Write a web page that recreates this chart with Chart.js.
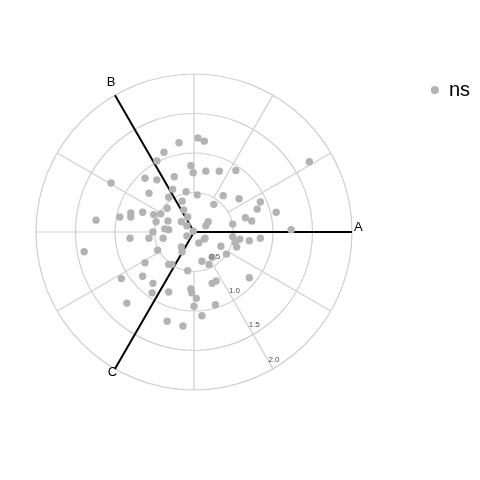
<!DOCTYPE html>
<html><head><meta charset="utf-8">
<style>html,body{margin:0;padding:0;background:#fff;}#wrap{width:480px;height:480px;}</style>
<script src="https://cdn.jsdelivr.net/npm/chart.js@4.4.1/dist/chart.umd.min.js"></script>
</head><body><div id="wrap"><canvas id="c" width="480" height="480"></canvas></div>
<script>
const seriesName = "ns";
const axisLabels = ["A", "B", "C"];
const axisAngles = [0, 120, 240];
const ringValues = [0.5, 1.0, 1.5, 2.0];
const tickLabels = ["0.5", "1.0", "1.5", "2.0"];
const spokeAngles = [30, 60, 90, 150, 180, 210, 270, 300, 330];
const pointX = [0.05,0.13,-0.19,-0.38,-0.47,1.46,-0.04,-0.01,0.15,0.32,0.53,-0.62,-0.47,-0.25,-1.05,-0.57,-0.27,-0.10,0.04,-0.32,-0.15,0.37,0.57,0.84,0.25,0.80,1.04,0.65,0.73,0.49,1.23,0.18,0.15,-0.34,-0.42,-0.51,-0.65,-0.80,-0.80,-0.94,-1.24,-0.48,-0.33,-0.16,-0.09,-0.52,-0.37,-0.32,-0.08,-0.13,
  -0.81,-0.57,-0.39,-0.09,-0.01,0.14,0.49,0.58,0.52,0.70,0.84,0.54,0.06,0.13,-1.39,-0.46,-0.16,-0.15,0.34,0.41,0.23,0.10,0.19,-0.62,-0.32,-0.28,-0.08,0.70,-0.65,-0.92,-0.52,-0.53,-0.32,-0.04,-0.03,0.03,0.00,0.23,0.28,0.27,-0.85,0.10,-0.34,-0.14];
const pointY = [1.19,1.15,1.13,1.01,0.90,0.89,0.84,0.75,0.77,0.77,0.78,0.68,0.66,0.70,0.62,0.49,0.54,0.51,0.47,0.44,0.39,0.46,0.42,0.38,0.35,0.29,0.25,0.18,0.14,0.10,0.03,0.13,0.08,0.30,0.23,0.22,0.25,0.24,0.19,0.19,0.15,0.13,0.14,0.13,0.08,0.00,0.04,0.03,0.19,0.28,
  -0.08,-0.08,-0.08,-0.05,0.01,-0.08,-0.06,-0.09,-0.13,-0.11,-0.08,-0.19,-0.14,-0.09,-0.25,-0.23,-0.19,-0.25,-0.18,-0.28,-0.32,-0.37,-0.41,-0.39,-0.41,-0.41,-0.49,-0.58,-0.56,-0.59,-0.65,-0.77,-0.76,-0.72,-0.77,-0.84,-0.94,-0.65,-0.62,-0.92,-0.90,-1.06,-1.13,-1.19];

const CX = 194, CY = 232, PPU = 79;
const FONT = "'Liberation Sans', Arial, sans-serif";

const fitPlugin = {
  id: 'fitPolar',
  afterLayout(chart) {
    const a = chart.chartArea, xs = chart.scales.x, ys = chart.scales.y;
    xs.min = (a.left - CX) / PPU; xs.max = (a.right - CX) / PPU;
    ys.min = (CY - a.bottom) / PPU; ys.max = (CY - a.top) / PPU;
    xs.configure(); ys.configure();
  }
};

function polarPx(chart, r, deg) {
  const xs = chart.scales.x, ys = chart.scales.y;
  const t = deg * Math.PI / 180;
  return [xs.getPixelForValue(r * Math.cos(t)), ys.getPixelForValue(r * Math.sin(t))];
}

const gridPlugin = {
  id: 'polarGrid',
  beforeDatasetsDraw(chart) {
    const ctx = chart.ctx, xs = chart.scales.x, ys = chart.scales.y;
    const cx = xs.getPixelForValue(0), cy = ys.getPixelForValue(0);
    ctx.save();
    ctx.strokeStyle = '#cfcfcf';
    ctx.lineWidth = 1.2;
    ringValues.forEach(r => {
      const rp = xs.getPixelForValue(r) - cx;
      ctx.beginPath(); ctx.arc(cx, cy, rp, 0, Math.PI * 2); ctx.stroke();
    });
    const rMin = ringValues[0], rMax = ringValues[ringValues.length - 1];
    spokeAngles.forEach(a => {
      const p0 = polarPx(chart, rMin, a), p1 = polarPx(chart, rMax, a);
      ctx.beginPath(); ctx.moveTo(p0[0], p0[1]); ctx.lineTo(p1[0], p1[1]); ctx.stroke();
    });
    ctx.strokeStyle = '#000';
    ctx.lineWidth = 2;
    axisAngles.forEach(a => {
      const p1 = polarPx(chart, rMax, a);
      ctx.beginPath(); ctx.moveTo(cx, cy); ctx.lineTo(p1[0], p1[1]); ctx.stroke();
    });
    ctx.fillStyle = '#000';
    ctx.font = "13px " + FONT;
    ctx.textBaseline = 'middle';
    const offs = [[2, -5, 'left'], [-4, -13, 'center'], [-2.5, 4, 'center']];
    axisAngles.forEach((a, i) => {
      const p = polarPx(chart, rMax, a);
      ctx.textAlign = offs[i][2];
      ctx.fillText(axisLabels[i], p[0] + offs[i][0], p[1] + offs[i][1]);
    });
    ctx.restore();
  },
  afterDatasetsDraw(chart) {
    const ctx = chart.ctx;
    ctx.save();
    ctx.fillStyle = '#4d4d4d';
    ctx.font = "8px " + FONT;
    ctx.textAlign = 'center'; ctx.textBaseline = 'middle';
    ringValues.forEach((r, i) => {
      const p = polarPx(chart, r, 300);
      ctx.fillText(tickLabels[i], p[0] + 1, p[1] - 9.5);
    });
    ctx.restore();
  }
};

const data = {
  datasets: [{
    label: seriesName,
    data: pointX.map((x, i) => ({x: x, y: pointY[i]})),
    backgroundColor: '#b3b3b3',
    borderWidth: 0,
    pointRadius: 3.7,
    pointHoverRadius: 3.7,
    clip: false
  }]
};

new Chart(document.getElementById('c'), {
  type: 'scatter',
  data: data,
  options: {
    responsive: false,
    animation: false,
    devicePixelRatio: 1,
    layout: {padding: {top: 70, right: 0, left: 0, bottom: 0}},
    scales: {
      x: {type: 'linear', display: false, min: -2.4, max: 3.6},
      y: {type: 'linear', display: false, min: -3.1, max: 2.0}
    },
    plugins: {
      legend: {
        position: 'right', align: 'start',
        labels: {
          usePointStyle: true, pointStyle: 'circle', boxWidth: 8, boxHeight: 5.66,
          padding: 10, color: '#000', font: {family: FONT, size: 20}
        }
      },
      tooltip: {enabled: false}
    }
  },
  plugins: [fitPlugin, gridPlugin]
});
</script></body></html>
